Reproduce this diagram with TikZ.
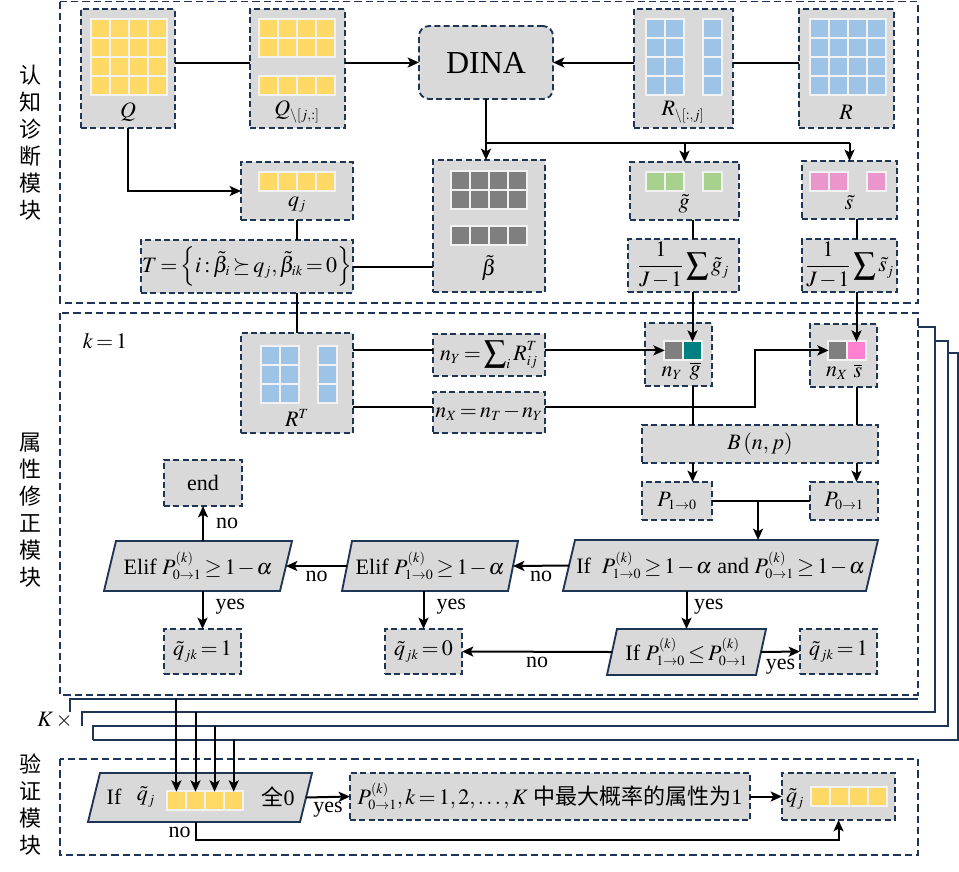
\documentclass[tikz,border=0pt]{standalone}
\usepackage{amsmath}
\usepackage{mathptmx}
\usepackage[no-math]{fontspec}
\setmainfont{Liberation Serif}
\newfontfamily\cjk{Noto Sans CJK SC}
\usetikzlibrary{arrows.meta,calc}
\DeclareMathSizes{16.5}{16.5}{10.5}{8}
\thickmuskip=2.5mu plus 1mu
\medmuskip=1.5mu plus 1mu
\definecolor{navy}{HTML}{1F3556}
\definecolor{boxgray}{HTML}{D9D9D9}
\definecolor{cellbg}{HTML}{F2F2F2}
\definecolor{cyel}{HTML}{FFD966}
\definecolor{cblue}{HTML}{9DC3E6}
\definecolor{cgreen}{HTML}{A9D18E}
\definecolor{cpink}{HTML}{EA96CC}
\definecolor{cpinkb}{HTML}{FF80D0}
\definecolor{cteal}{HTML}{008080}
\definecolor{cdgray}{HTML}{7F7F7F}
\tikzset{
 every node/.style={font=\fontsize{16.5}{20}\selectfont, inner sep=0pt},
 box/.style={rectangle, draw=navy, fill=boxgray, line width=1.4pt, dash pattern=on 4.5pt off 2.5pt, inner sep=0pt, outer sep=0pt},
 modbox/.style={draw=navy, line width=1.4pt, dash pattern=on 5.5pt off 3pt},
 paranode/.style={rectangle, draw=none, inner sep=0pt, outer sep=0pt},
 parashape/.style={draw=navy, fill=boxgray, line width=1.4pt},
 cellnode/.style={rectangle, minimum size=13.05pt, inner sep=0pt, outer sep=0pt, draw=none},
 conn/.style={line width=1.5pt, black},
 arr/.style={conn, -{Stealth[length=8.5pt,width=7.5pt,inset=2pt]}},
 stack/.style={draw=navy, line width=1.5pt},
 lab/.style={inner sep=3pt},
 side/.style={align=center, font=\cjk\fontsize{16.5}{20.25}\selectfont},
}
% box: [opt]{x1}{y1}{x2}{y2}{name}{text}
\newcommand\bx[7][]{\node[box,#1,minimum width={(#4-#2)*0.75pt},minimum height={(#5-#3)*0.75pt}] (#6) at ({(#2+#4)/2},{(#3+#5)/2}) {#7};}
% parallelogram: {midleft x}{top y}{midright x}{bottom y}{slant}{name}
\newcommand\para[6]{%
 \node[paranode, minimum width={(#3-#1)*0.75pt}, minimum height={(#4-#2)*0.75pt}] (#6) at ({(#1+#3)/2},{(#2+#4)/2}) {};
 \draw[parashape] ($(#6.north west)+({#5/2},0)$) -- ($(#6.north east)+({#5/2},0)$) -- ($(#6.south east)-({#5/2},0)$) -- ($(#6.south west)-({#5/2},0)$) -- cycle;}
% grid: {x0}{y0}{cols}{rows}{color}
\newcommand\cellgrid[5]{%
 \fill[cellbg] (#1,#2) rectangle ++({#3*19.1+1.7},{#4*19.1+1.7});
 \foreach \i in {1,...,#3}{\foreach \j in {1,...,#4}{
  \fill[#5] ({#1+1.7+(\i-1)*19.1},{#2+1.7+(\j-1)*19.1}) rectangle ++(17.4,17.4);}}}
\begin{document}
\begin{tikzpicture}[x=0.75pt,y=-0.75pt]
\useasboundingbox (0,0) rectangle (959,871);
% stacked layers
\draw[stack] (70,712) -- (70,699) -- (918,699);
\draw[stack] (82,726) -- (82,712) -- (935,712) -- (935,327) -- (918,327);
\draw[stack] (93,740) -- (93,726) -- (948,726) -- (948,341) -- (935,341);
\draw[stack] (93,740) -- (958,740) -- (958,353) -- (948,353);
\coordinate (ly0) at (70,699);
\coordinate (ly1) at (82,712);
\coordinate (ly2) at (93,726);
\coordinate (ly3) at (93,740);
% modules
\draw[modbox] (60,1.5) rectangle (918,303);
\draw[modbox] (60,313) rectangle (918,695);
\draw[modbox] (60,759) rectangle (918,855);
\node[side] (s1) at (30,143) {认\\知\\诊\\断\\模\\块};
\node[side] (s2) at (30,510) {属\\性\\修\\正\\模\\块};
\node[side] (s3) at (30,805) {验\\证\\模\\块};
\node (Kx) at (55,720) {$K\,\times$};
% ---- top module
\bx{81}{9}{175}{128}{Q}{}
\cellgrid{90}{18}{4}{4}{cyel}
\node (Qt) at (128,112) {$Q$};
\bx{250}{9}{345}{128}{Qs}{}
\cellgrid{258}{18}{4}{2}{cyel}
\cellgrid{258}{75}{4}{1}{cyel}
\node (Qst) at (297,112) {$Q_{\setminus[j,:]}$};
\bx[rounded corners=7.5pt]{419}{26}{553}{99}{DINA}{\fontsize{24}{28}\selectfont DINA}
\bx{634}{9}{733}{128}{Rs}{}
\cellgrid{645}{18}{2}{4}{cblue}
\cellgrid{702}{18}{1}{4}{cblue}
\node (Rst) at (683,112) {$R_{\setminus[:,j]}$};
\bx{799}{9}{894}{128}{R}{}
\cellgrid{809}{18}{4}{4}{cblue}
\node (Rt) at (846,112) {$R$};
\bx{241}{162}{353}{220}{qj}{}
\cellgrid{258}{171}{4}{1}{cyel}
\node (qjt) at (297,205) {$q_j$};
\bx{141}{240}{353}{293}{T}{$T=\left\{i:\tilde\beta_i\succeq q_j,\tilde\beta_{ik}=0\right\}$}
\bx{433}{160}{545}{292}{beta}{}
\cellgrid{450}{170}{4}{2}{cdgray}
\cellgrid{450}{225}{4}{1}{cdgray}
\node (betat) at (489,268) {$\tilde\beta$};
\bx{630}{162}{739}{220}{gt}{}
\cellgrid{645}{171}{2}{1}{cgreen}
\cellgrid{702}{171}{1}{1}{cgreen}
\node (gtt) at (684,204) {$\tilde g$};
\bx{802}{161}{897}{219}{st}{}
\cellgrid{809}{171}{2}{1}{cpink}
\cellgrid{866}{171}{1}{1}{cpink}
\node (stt) at (849,203) {$\tilde s$};
\bx{628}{239}{739}{292}{sg}{$\dfrac{1}{J-1}\displaystyle\sum\tilde g_j$}
\bx{802}{239}{897}{292}{ss}{$\dfrac{1}{J-1}\displaystyle\sum\tilde s_j$}
% ---- middle module
\node (k1) at (105,341) {$k=1$};
\bx{241}{333}{353}{433}{RT}{}
\cellgrid{260}{345}{2}{3}{cblue}
\cellgrid{317}{345}{1}{3}{cblue}
\node (RTt) at (297,418) {$R^T$};
\bx{433}{334}{545}{376}{nY}{$n_Y=\displaystyle\sum\nolimits_i R^T_{ij}$}
\bx{433}{392}{545}{433}{nX}{$n_X=n_T-n_Y$}
\bx{645}{323}{712}{386}{nYg}{}
\fill[cellbg] (663,340) rectangle ++(39.9,20.8);
\node[cellnode, fill=cdgray] (nyc1) at (673.4,350.4) {};
\node[cellnode, fill=cteal] (nyc2) at (692.5,350.4) {};
\node (nyt) at (672,373) {$n_Y$};
\node (gbt) at (695,371) {$\overline{g}$};
\bx{810}{324}{877}{387}{nXs}{}
\fill[cellbg] (827,340) rectangle ++(39.9,20.8);
\node[cellnode, fill=cdgray] (nxc1) at (837.4,350.4) {};
\node[cellnode, fill=cpinkb] (nxc2) at (856.5,350.4) {};
\node (nxt) at (837,373) {$n_X$};
\node (sbt) at (858,371) {$\overline{s}$};
\bx{642}{425}{878}{463}{B}{$B\left(n,p\right)$}
\bx{642}{482}{712}{520}{P10}{$P_{1\to0}$}
\bx{810}{482}{878}{520}{P01}{$P_{0\to1}$}
\bx{164}{460}{242}{506}{end}{end}
\para{569}{540}{872}{591}{12}{IfA}
\node (IfAt) at (IfA) {If\ \ $P^{(k)}_{1\to0}\ge1-\alpha$ and $P^{(k)}_{0\to1}\ge1-\alpha$};
\para{347}{541}{513}{591}{10}{E2}
\node (E2t) at (E2) {Elif $P^{(k)}_{1\to0}\ge1-\alpha$};
\para{110}{541}{286}{591}{12}{E1}
\node (E1t) at (E1) {Elif $P^{(k)}_{0\to1}\ge1-\alpha$};
\bx{164}{629}{241}{674}{q1}{$\tilde q_{jk}=1$}
\bx{385}{629}{462}{674}{q0}{$\tilde q_{jk}=0$}
\para{612}{629}{761}{675}{10}{IfL}
\node (IfLt) at (IfL) {If $P^{(k)}_{1\to0}\le P^{(k)}_{0\to1}$};
\bx{800}{629}{877}{674}{q1r}{$\tilde q_{jk}=1$}
% ---- validation module
\para{94}{773}{306}{822}{12}{IfV}
\node (IfVa) at (114,797) {If};
\node (IfVb) at (146,797) {$\tilde q_j$};
\fill[cellbg] (166,790) rectangle ++(78.1,20.8);
\foreach \i in {1,...,4}{\node[cellnode, fill=cyel] (v\i) at ({176.4+19.1*(\i-1)},800.4) {};}
\node (IfVc) at (278,797) {{\cjk 全}0};
\bx{350}{773}{750}{820}{Pb}{$P^{(k)}_{0\to1},k=1,2,\ldots,K$ {\cjk 中最大概率的属性为}1}
\bx{782}{773}{895}{820}{qv}{}
\node (qvt) at (795,799) {$\tilde q_j$};
\cellgrid{810}{786}{4}{1}{cyel}
% ---- connectors top
\draw[conn] (Q.east |- DINA.west) -- (Qs.west |- DINA.west);
\draw[arr] (Qs.east |- DINA.west) -- (DINA.west);
\draw[conn] (R.west |- DINA.east) -- (Rs.east |- DINA.east);
\draw[arr] (Rs.west |- DINA.east) -- (DINA.east);
\coordinate (br) at ($(DINA.south)+(0,44)$);
\draw[arr] (DINA.south) -- (DINA.south |- beta.north);
\draw[conn] (br) -- (br -| st.north);
\draw[arr] (br -| gt.north) -- (gt.north);
\draw[arr] (br -| st.north) -- (st.north);
\draw[arr] (Q.south) |- (qj.west);
\draw[conn] (qj.south) -- (qj.south |- T.north);
\draw[conn] (T.east) -- (T.east -| beta.west);
\draw[conn] (qj.south |- T.south) -- (RT.north);
\draw[conn] (gt.south -| nyc2) -- (sg.north -| nyc2);
\draw[conn] (st.south -| nxc2) -- (ss.north -| nxc2);
\draw[arr] (sg.south -| nyc2) -- (nyc2.north);
\draw[arr] (ss.south -| nxc2) -- (nxc2.north);
% ---- connectors middle
\draw[conn] (RT.east |- nyc1) -- (nY.west |- nyc1);
\draw[arr] (nY.east |- nyc1) -- (nyc1.west);
\draw[conn] ($(RT.east |- nX.west)+(0,-5.3)$) -- ($(nX.west)+(0,-5.3)$);
\draw[arr] ($(nX.east)+(0,-5.3)$) -- ++(210,0) |- (nxc1.west);
\draw[conn] (nYg.south -| nyc2) -- (B.north -| nyc2);
\draw[conn] (nXs.south -| nxc2) -- (B.north -| nxc2);
\draw[arr] (B.south -| nyc2) -- (P10.north -| nyc2);
\draw[arr] (B.south -| nxc2) -- (P01.north -| nxc2);
\draw[conn] (P10.east) -- (P01.west);
\coordinate (pm) at ($(P10.east)!0.47!(P01.west)$);
\draw[arr] (pm) -- (pm |- IfA.north);
\draw[arr] (IfA.west) -- node[lab,below]{no} (E2.east);
\draw[arr] (E2.west) -- node[lab,below]{no} (E1.east);
\draw[arr] (end |- E1.north) -- node[lab,right,xshift=6pt]{no} (end.south);
\draw[arr] (q1 |- E1.south) -- node[lab,right,xshift=6pt,pos=0.4]{yes} (q1.north);
\draw[arr] (q0 |- E2.south) -- node[lab,right,xshift=6pt,pos=0.4]{yes} (q0.north);
\draw[arr] (IfL.north |- IfA.south) -- node[lab,right,xshift=2pt,pos=0.4]{yes} (IfL.north);
\draw[arr] (IfL.west) -- node[lab,below]{no} (q0.east);
\draw[arr] (IfL.east) -- node[lab,below,yshift=-2pt]{yes} (q1r.west);
% ---- connectors bottom
\draw[arr] (v1 |- ly0) -- (v1.north);
\draw[arr] (v2 |- ly1) -- (v2.north);
\draw[arr] (v3 |- ly2) -- (v3.north);
\draw[arr] (v4 |- ly3) -- (v4.north);
\draw[arr] (IfV.east) -- node[lab,below]{yes} (Pb.west);
\draw[arr] (Pb.east) -- (qv.west);
\draw[arr] (v2 |- IfV.south) -- node[lab,left,pos=0.6]{no} ++(0,18) -| (qv.south);
\end{tikzpicture}
\end{document}
